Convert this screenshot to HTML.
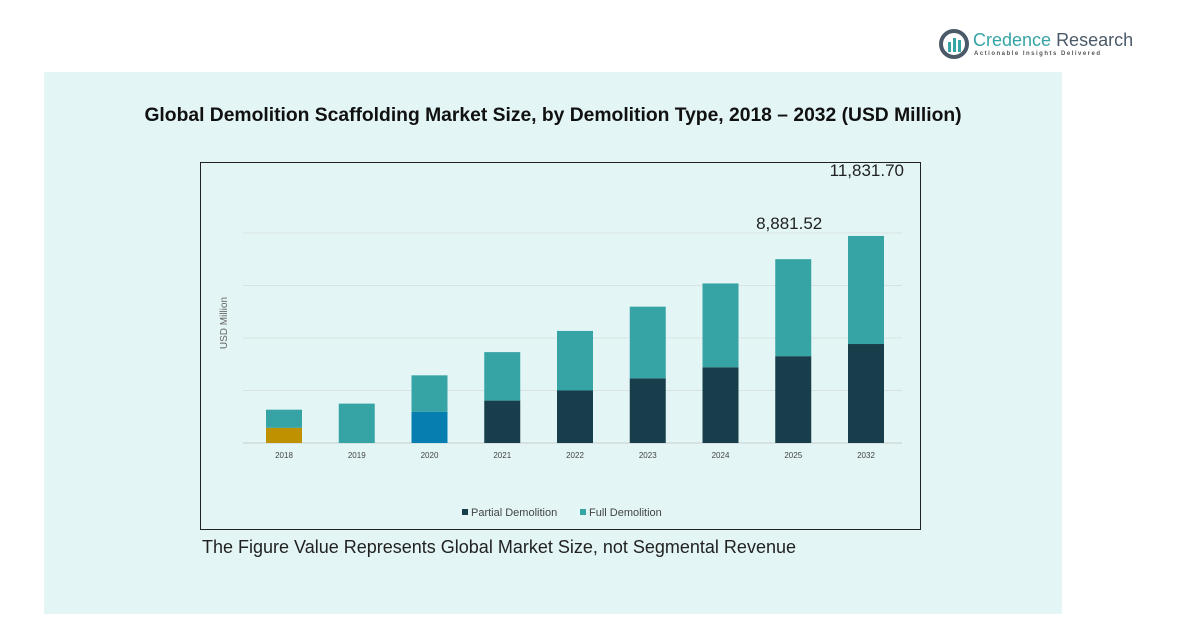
<!DOCTYPE html>
<html><head><meta charset="utf-8"><style>
body{margin:0;width:1192px;height:632px;background:#fff;font-family:"Liberation Sans",sans-serif;position:relative;overflow:hidden}
</style></head><body>
<div style="position:absolute;left:938px;top:28px;width:200px;height:34px">
<svg width="32" height="32" style="position:absolute;left:0;top:0"><circle cx="16" cy="16" r="13" fill="none" stroke="#4a5a68" stroke-width="4"/><rect x="10" y="14" width="3" height="10" fill="#36a4a4"/><rect x="15" y="10" width="3" height="14" fill="#36a4a4"/><rect x="20" y="12" width="3" height="12" fill="#36a4a4"/></svg>
<div style="position:absolute;left:35px;top:2px;font-size:18px;color:#36a4a4;white-space:nowrap">Credence <span style="color:#4a5a68">Research</span></div>
<div style="position:absolute;left:36px;top:23px;font-size:6px;letter-spacing:1.5px;color:#555;font-weight:bold;white-space:nowrap">Actionable Insights Delivered</div>
</div>
<div style="position:absolute;left:44px;top:72px;width:1018px;height:542px;background:#e3f5f5"></div>
<div style="position:absolute;left:44px;top:105px;width:1018px;text-align:center;font-size:19.3px;font-weight:bold;color:#111;white-space:nowrap">Global Demolition Scaffolding Market Size, by Demolition Type, 2018 – 2032 (USD Million)</div>
<svg id="chart" width="1192" height="632" style="position:absolute;left:0;top:0">
<rect x="200.5" y="162.5" width="720" height="367" fill="none" stroke="#222" stroke-width="1"/>
<text transform="translate(227,323) rotate(-90)" text-anchor="middle" font-size="10" fill="#666">USD Million</text>
</svg>
<div style="position:absolute;left:202px;top:537px;font-size:18px;color:#222;white-space:nowrap">The Figure Value Represents Global Market Size, not Segmental Revenue</div>
<script>
const categories=["2018","2019","2020","2021","2022","2023","2024","2025","2032"];
const partialValues=[866,2250,1789,2423,3000,3693,4328,4962,5656];
const fullValues=[1038,0,2077,2770,3405,4097,4789,5542,6176];
const bottomColors=["#bf9000","#36a4a4","#067fb0","#173e4a","#173e4a","#173e4a","#173e4a","#173e4a","#173e4a"];
const printedLabels={"2025":"8,881.52","2032":"11,831.70"};
const gridTicks=[0,3000,6000,9000,12000];
const svg=document.getElementById('chart');const NS='http://www.w3.org/2000/svg';
const base=443,k=0.0175,x0=284,step=72.75,bw=36;
const y=v=>base-v*k;const xc=i=>x0+i*step;
function mk(t,a){const e=document.createElementNS(NS,t);for(const n in a)e.setAttribute(n,a[n]);svg.appendChild(e);return e;}
gridTicks.forEach((t,i)=>{const l=mk('line',{x1:243,x2:902,y1:y(t),y2:y(t),stroke:i==0?'#c8d0d0':'#d8e2e2','stroke-width':1});

});
categories.forEach((c,i)=>{
const p=partialValues[i],f=fullValues[i];
const r1=mk('rect',{x:xc(i)-bw/2,y:y(p),width:bw,height:p*k,fill:bottomColors[i]});


const r2=mk('rect',{x:xc(i)-bw/2,y:y(p+f),width:bw,height:f*k,fill:'#36a4a4'});


const t=mk('text',{x:xc(i),y:458,'text-anchor':'middle','font-size':8,fill:'#444'});t.textContent=c;


if(printedLabels[c]){const lb=mk('text',{x:xc(i)+(c=='2032'?38:29),y:y(p+f)-(c=='2032'?60:30),'text-anchor':'end','font-size':17,fill:'#222'});lb.textContent=printedLabels[c];

}
});
[["Partial Demolition","#173e4a",462],["Full Demolition","#36a4a4",580]].forEach(([n,col,lx])=>{
const g=mk('rect',{x:lx,y:509,width:6,height:6,fill:col});


const t=mk('text',{x:lx+9,y:516,'font-size':11,fill:'#444'});t.textContent=n;

});
</script>
</body></html>
